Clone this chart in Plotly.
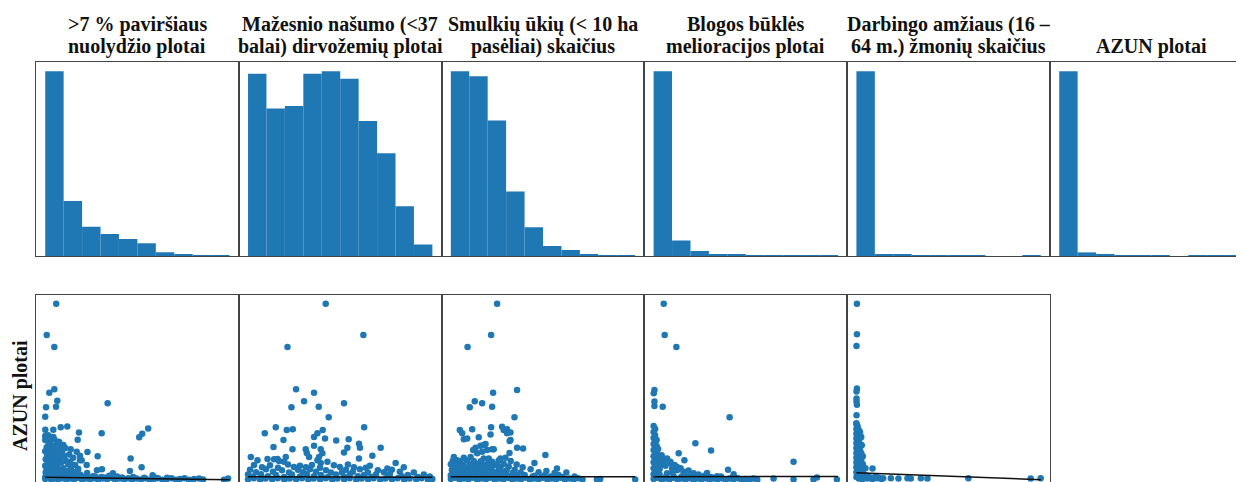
import plotly.graph_objects as go

# ---------------- data ----------------
title_line1 = [">7 % paviršiaus", "Mažesnio našumo (<37", "Smulkių ūkių (< 10 ha",
               "Blogos būklės", "Darbingo amžiaus (16 –", ""]
title_line2 = ["nuolydžio plotai", "balai) dirvožemių plotai", "pasėliai) skaičius",
               "melioracijos plotai", "64 m.) žmonių skaičius", "AZUN plotai"]
y_label = "AZUN plotai"

# variable ranges (min, max) of each column
var_min = [0, 0, 0, 0, 0, 0]
var_max = [1846, 9230, 924, 3692, 92300, 440]

# histogram counts (10 bins each)
hist_slope = [900, 268, 143, 107, 83, 62, 18, 10, 3, 2]
hist_soil = [220, 178, 181, 220, 223, 214, 163, 124, 60, 14]
hist_farms = [484, 471, 355, 169, 75, 26, 16, 3, 1, 1]
hist_drain = [1400, 117, 38, 15, 11, 7, 4, 2, 3, 4]
hist_work = [1565, 15, 9, 4, 2, 1, 1, 0, 0, 2]
hist_azun = [1530, 30, 17, 5, 8, 2, 0, 1, 1, 1]

# scatter points (x, AZUN) per column
slope_pts = [
    (110, 440), (15, 362), (91, 332), (91, 227), (41, 218), (121, 198), (108, 183), (8, 182), (0, 158), (625, 192),
    (155, 132), (221, 134), (1, 126), (81, 126), (338, 119), (325, 101), (565, 117), (1031, 129), (971, 116), (941, 107),
    (255, 77), (423, 70), (348, 61), (348, 50), (525, 60), (855, 54), (848, 23), (965, 32), (678, 17), (1075, 12),
    (518, 25), (568, 27), (81, 108), (131, 96), (181, 88), (315, 71), (365, 50), (415, 38),
    (0, 110), (30, 112), (70, 106), (0, 100), (50, 98), (90, 102), (140, 95), (35, 90), (75, 86), (120, 92), (160, 84),
    (15, 82), (55, 78), (95, 80), (135, 75), (200, 80), (0, 72), (40, 70), (80, 68), (120, 66), (170, 70), (240, 64),
    (20, 62), (60, 58), (100, 60), (150, 56), (190, 60), (280, 56), (5, 52), (45, 50), (85, 48), (130, 52), (210, 48),
    (250, 46), (25, 44), (65, 42), (110, 40), (160, 44), (230, 40), (300, 38), (0, 36), (40, 34), (80, 32), (120, 36),
    (180, 30), (260, 32), (330, 28), (15, 28), (55, 26), (100, 22), (140, 26), (200, 22), (240, 24), (290, 20),
    (5, 20), (35, 18), (75, 16), (115, 20), (170, 16), (220, 14), (270, 16), (350, 14), (420, 18),
    (20, 12), (60, 10), (95, 12), (135, 8), (190, 10), (250, 8), (310, 12), (390, 9), (480, 10), (560, 8), (640, 11), (720, 9),
    (0, 3), (30, 6), (60, 1), (95, 4), (130, 2), (170, 5), (210, 1), (250, 4), (290, 2), (330, 6), (370, 1), (410, 4),
    (450, 2), (490, 5), (530, 1), (575, 4), (620, 2), (660, 6), (700, 1), (745, 4), (790, 2), (830, 5), (870, 1),
    (915, 4), (960, 2), (1000, 5), (1045, 1), (1090, 3), (1130, 5), (1175, 1), (1220, 3), (1265, 5), (1310, 1),
    (1350, 3), (1395, 5), (1440, 1), (1490, 3), (1540, 4), (1580, 2), (1790, 1), (1831, 4),
    (0, 8), (40, 10), (80, 9), (120, 7), (160, 9), (200, 8), (240, 10), (280, 7), (320, 9), (370, 8), (430, 7),
    (500, 9), (590, 7), (680, 8), (770, 7), (880, 8), (990, 6), (1100, 7), (1220, 6),
]

soil_pts = [
    (3890, 440), (5775, 362), (1975, 332), (2405, 227), (3305, 218), (2175, 182), (2805, 197), (3540, 183), (4805, 192),
    (4040, 157), (1390, 132), (1940, 125), (2240, 127), (5815, 132), (840, 117), (3740, 125), (3475, 117), (3305, 108),
    (1775, 100), (3855, 104), (4415, 99), (5040, 102), (5555, 91), (5605, 81), (4975, 81), (4805, 69), (1275, 83),
    (2225, 77), (2890, 77), (2940, 68), (3305, 86), (3640, 77), (3725, 67), (6225, 61), (6640, 81), (7390, 43),
    (140, 58), (475, 50), (975, 53), (1475, 53), (1890, 58), (1805, 46), (3055, 58), (3475, 50), (3975, 46),
    (5555, 54), (6975, 29), (3555, 58), (3640, 43), (1555, 48), (1305, 52),
    (300, 38), (1100, 37), (2000, 39), (2600, 36), (3200, 38), (4300, 37), (5000, 39), (6100, 36),
    (700, 32), (1500, 31), (2300, 33), (2900, 32), (3600, 31), (4600, 33), (5300, 32), (5900, 31), (7800, 32),
    (100, 26), (900, 27), (1700, 25), (2500, 26), (3100, 27), (3900, 25), (4900, 26), (5600, 27), (6500, 25), (7200, 26),
    (400, 20), (1250, 21), (2050, 19), (2750, 20), (3400, 21), (4150, 19), (4700, 20), (5250, 21), (6000, 19),
    (6800, 20), (7600, 21), (8300, 19),
    (0, 14), (650, 15), (1400, 13), (2200, 14), (2950, 15), (3650, 13), (4400, 14), (5100, 15), (5800, 13),
    (6400, 14), (7100, 15), (8000, 13), (8800, 14),
    (250, 9), (1000, 10), (1800, 8), (2600, 9), (3300, 10), (4000, 8), (4800, 9), (5500, 10), (6200, 8),
    (7000, 9), (7700, 10), (8500, 8), (9100, 9),
    (0, 2), (290, 5), (610, 1), (880, 4), (1210, 2), (1490, 5), (1820, 1), (2090, 4), (2410, 2), (2700, 5), (3020, 1),
    (3290, 4), (3610, 2), (3890, 5), (4220, 1), (4480, 4), (4810, 2), (5090, 5), (5420, 1), (5690, 4), (6010, 2),
    (6290, 5), (6620, 1), (6880, 4), (7210, 2), (7490, 5), (7820, 1), (8090, 4), (8420, 2), (8690, 5), (9010, 1), (9230, 3),
]

farms_pts = [
    (232, 440), (202, 362), (84, 332), (212, 218), (332, 225), (120, 197), (157, 192), (95, 182), (207, 183), (319, 157),
    (45, 125), (107, 127), (202, 132), (257, 133), (282, 127), (299, 119), (57, 117), (65, 102), (82, 104), (199, 114),
    (140, 107), (299, 100), (174, 90), (149, 86), (124, 81), (112, 75), (207, 77), (332, 81), (362, 79), (294, 68),
    (15, 58), (32, 50), (65, 56), (99, 58), (132, 67), (157, 71), (190, 54), (207, 46), (249, 54), (274, 56),
    (474, 63), (419, 43), (479, 23), (532, 29), (579, 19), (165, 54), (190, 42), (215, 38), (182, 75), (215, 77),
    (265, 125), (282, 117), (295, 98), (165, 88),
    (10, 48), (45, 47), (80, 49), (115, 48), (150, 47), (240, 49), (300, 48),
    (0, 40), (25, 41), (60, 39), (95, 40), (130, 41), (165, 39), (230, 40), (265, 41), (330, 39),
    (15, 33), (50, 34), (85, 32), (120, 33), (155, 34), (185, 32), (250, 33), (290, 34), (360, 32),
    (5, 26), (40, 27), (70, 25), (105, 26), (140, 27), (175, 25), (205, 26), (240, 27), (280, 25), (320, 26), (400, 27),
    (20, 19), (55, 20), (90, 18), (125, 19), (160, 20), (195, 18), (230, 19), (265, 20), (310, 18), (350, 19),
    (440, 20), (520, 18),
    (0, 12), (35, 13), (70, 11), (100, 12), (135, 13), (170, 11), (210, 12), (245, 13), (285, 11), (330, 12),
    (370, 13), (420, 11), (470, 12), (540, 13),
    (10, 8), (50, 9), (95, 8), (140, 9), (185, 8), (230, 9), (275, 8), (320, 9), (365, 8), (410, 9), (455, 8),
    (500, 9), (560, 8), (620, 9),
    (0, 3), (22, 6), (44, 1), (66, 4), (88, 2), (110, 6), (132, 1), (154, 4), (176, 2), (198, 6), (220, 1), (242, 4),
    (264, 2), (286, 6), (308, 1), (330, 4), (352, 2), (374, 6), (396, 1), (418, 4), (440, 2), (462, 6), (484, 1),
    (506, 4), (528, 2), (550, 6), (572, 1), (594, 4), (616, 2), (638, 5), (660, 2), (732, 2), (749, 3), (924, 2),
]

drain_pts = [
    (202, 440), (222, 362), (456, 332), (16, 225), (2, 217), (16, 196), (16, 185), (182, 183), (1522, 157),
    (836, 92), (1150, 74), (502, 67), (616, 50), (2802, 46), (1490, 26), (1602, 15), (1070, 18),
    (0, 135), (0, 120), (0, 105), (0, 90), (0, 75), (0, 60), (0, 45), (0, 30), (0, 15),
    (30, 128), (30, 112), (30, 98), (30, 82), (30, 68), (30, 52), (30, 38), (30, 22), (30, 8),
    (60, 100), (60, 85), (60, 70), (60, 55), (60, 40), (60, 25), (60, 12),
    (90, 78), (90, 62), (90, 48), (90, 33), (90, 18),
    (120, 58), (120, 42), (120, 28), (120, 14),
    (202, 54), (336, 46), (136, 42), (70, 33), (370, 29), (470, 25), (602, 18), (270, 17), (802, 12), (1270, 10),
    (270, 54), (202, 46), (136, 37), (336, 43), (470, 33), (602, 21), (802, 17), (160, 62), (420, 38), (540, 30),
    (700, 24), (240, 36), (380, 20), (900, 14), (1040, 12),
    (100, 10), (250, 9), (400, 10), (550, 8), (700, 10), (850, 9), (1000, 10), (1150, 8), (1350, 9), (1600, 8),
    (0, 3), (80, 6), (160, 1), (240, 4), (320, 2), (400, 6), (480, 1), (560, 4), (640, 2), (720, 5), (800, 1),
    (880, 4), (960, 2), (1040, 5), (1120, 1), (1200, 4), (1280, 2), (1360, 5), (1440, 1), (1520, 4), (1600, 2),
    (1680, 5), (1760, 1), (1840, 3), (1920, 2), (2000, 4), (2076, 1),
    (2402, 4), (2802, 2), (3202, 2), (3270, 7), (3670, 2),
]

work_pts = [
    (250, 440), (250, 364), (50, 335), (250, 229), (50, 221), (50, 204), (50, 196), (250, 188), (50, 162), (0, 142),
    (2250, 108), (2250, 67), (2650, 87), (8050, 29),
    (0, 140), (0, 128), (0, 116), (0, 104), (0, 92), (0, 80), (0, 68), (0, 56), (0, 44), (0, 32), (0, 20), (0, 8),
    (600, 134), (600, 122), (600, 110), (600, 98), (600, 86), (600, 74), (600, 62), (600, 50), (600, 38), (600, 26), (600, 14),
    (1200, 125), (1200, 112), (1200, 100), (1200, 88), (1200, 76), (1200, 64), (1200, 52), (1200, 40), (1200, 28),
    (1200, 16), (1200, 4),
    (1800, 120), (1800, 105), (1800, 90), (1800, 75), (1800, 60), (1800, 45), (1800, 30), (1800, 18), (1800, 6),
    (2400, 108), (2400, 88), (2400, 67), (2400, 50), (2400, 35), (2400, 22), (2400, 10),
    (3200, 60), (3200, 40), (3200, 20), (3200, 8), (4500, 30), (4500, 12),
    (3000, 2), (5500, 4), (8000, 2), (10500, 5), (12500, 3), (3500, 12), (6000, 10), (9500, 9), (5000, 8), (7000, 6),
    (11000, 7), (13400, 5), (17250, 5), (21050, 4), (25550, 5), (27250, 4), (32250, 5), (35550, 4), (56050, 5),
    (87250, 4), (92250, 5),
]

# fitted line values (AZUN) at each column's min and max
reg_left = [7.5, 8.3, 8.8, 8.8, 18.8]
reg_right = [1.3, 7.5, 8.3, 9.3, 1.3]

hists = [hist_slope, hist_soil, hist_farms, hist_drain, hist_work, hist_azun]
scatters = [slope_pts, soil_pts, farms_pts, drain_pts, work_pts]

# ---------------- layout geometry (screen pixels) ----------------
SW, SH = 1244, 482          # browser window
OFF = 8                     # page body margin
W, H = SW - OFF, SH - OFF   # figure size so it fills the window
BLUE = "#1f77b4"
FRAME = "#444444"
col_w = 202.8
col_left = [36 + col_w * k for k in range(6)]   # screen x of each column's left edge
top_top, top_bot = 62, 256
bot_top = 295
row_h = top_bot - top_top


def fx(p):
    return (p - OFF) / W


def fy(p):
    return 1 - (p - OFF) / H


def xdom(k):
    l = col_left[k]
    r = min(l + col_w, SW)
    return [fx(l), min(fx(r), 1.0)], (r - l) / col_w


def pad_range(lo, hi, m=0.05):
    s = hi - lo
    return lo - m * s, hi + m * s


fig = go.Figure()
layout = dict(
    width=W, height=H, margin=dict(l=0, r=0, t=0, b=0),
    paper_bgcolor="white", plot_bgcolor="white", showlegend=False,
)
ax_common = dict(showgrid=False, zeroline=False, showticklabels=False, ticks="",
                 showline=True, linecolor=FRAME, linewidth=1.4)

# top row: histograms
for k in range(6):
    counts = hists[k]
    lo, hi = var_min[k], var_max[k]
    bw = (hi - lo) / len(counts)
    centers = [lo + bw * (i + 0.5) for i in range(len(counts))]
    n = k + 1
    fig.add_trace(go.Bar(x=centers, y=counts, width=bw,
                         marker=dict(color=BLUE, line=dict(width=0)),
                         xaxis=f"x{n}", yaxis=f"y{n}"))
    dom, frac = xdom(k)
    rlo, rhi = pad_range(lo, hi)
    layout[f"xaxis{n}"] = dict(ax_common, domain=dom, anchor=f"y{n}", mirror=True,
                               range=[rlo, rlo + (rhi - rlo) * frac])
    layout[f"yaxis{n}"] = dict(ax_common, domain=[fy(top_bot), fy(top_top)], anchor=f"x{n}",
                               mirror=(k < 5), range=[0, max(counts) * 1.05])

# bottom row: scatter against AZUN
yfrac = (SH - bot_top) / row_h
for k in range(5):
    n = k + 7
    pts = scatters[k]
    xs = [p[0] for p in pts]
    ys = [p[1] for p in pts]
    fig.add_trace(go.Scatter(x=xs, y=ys, mode="markers",
                             marker=dict(color=BLUE, size=6.5, line=dict(width=0)),
                             xaxis=f"x{n}", yaxis=f"y{n}"))
    fig.add_trace(go.Scatter(x=[var_min[k], var_max[k]], y=[reg_left[k], reg_right[k]], mode="lines",
                             line=dict(color="#111111", width=1.5),
                             xaxis=f"x{n}", yaxis=f"y{n}"))
    dom, _ = xdom(k)
    rlo, rhi = pad_range(var_min[k], var_max[k])
    ylo, yhi = pad_range(var_min[5], var_max[5])
    layout[f"xaxis{n}"] = dict(ax_common, domain=dom, anchor=f"y{n}", side="top", mirror=False,
                               range=[rlo, rhi])
    layout[f"yaxis{n}"] = dict(ax_common, domain=[0, fy(bot_top)], anchor=f"x{n}", mirror=True,
                               range=[yhi - (yhi - ylo) * yfrac, yhi])

# titles
ann = []
tfont = dict(family="Liberation Serif", size=20, color="#111111")
for k in range(6):
    cx = fx(col_left[k] + col_w / 2)
    if title_line1[k]:
        ann.append(dict(text=f"<b>{title_line1[k]}</b>", x=cx, y=fy(24.8), xref="paper", yref="paper",
                        xanchor="center", yanchor="middle", showarrow=False, font=tfont))
    ann.append(dict(text=f"<b>{title_line2[k]}</b>", x=cx, y=fy(46.6), xref="paper", yref="paper",
                    xanchor="center", yanchor="middle", showarrow=False, font=tfont))
ann.append(dict(text=f"<b>{y_label}</b>", x=fx(20), y=fy(396), xref="paper", yref="paper",
                xanchor="center", yanchor="middle", textangle=-90, showarrow=False, font=tfont))
layout["annotations"] = ann

fig.update_layout(**layout)
fig.write_html("out.html", config={"displayModeBar": False})
